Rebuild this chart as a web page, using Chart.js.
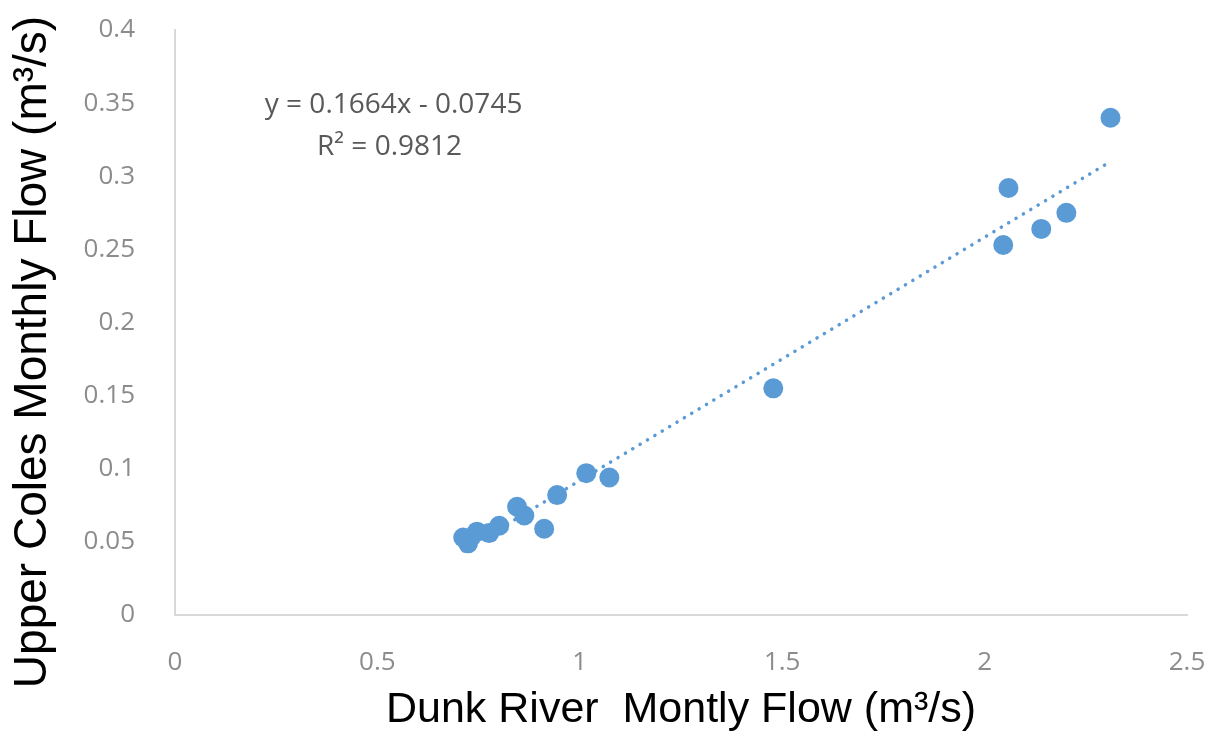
<!DOCTYPE html>
<html>
<head>
<meta charset="utf-8">
<title>Dunk River vs Upper Coles</title>
<script src="https://cdn.jsdelivr.net/npm/chart.js@4/dist/chart.umd.min.js"></script>
<style>
	body{margin:0;background:#fff;}
	canvas{display:block;}
</style>
</head>
<body>
<canvas id="grafica" width="1215" height="740"></canvas>
<script>

// Caudales mensuales (m3/s)
var flujoDunk  = [0.712, 0.724, 0.746, 0.776, 0.801, 0.845, 0.863, 0.912, 0.944, 1.016, 1.073, 1.478, 2.046, 2.059, 2.140, 2.202, 2.311];
var flujoColes = [0.053, 0.049, 0.057, 0.056, 0.061, 0.074, 0.068, 0.059, 0.082, 0.097, 0.094, 0.155, 0.253, 0.292, 0.264, 0.275, 0.340];

// Recta de ajuste
var pendiente = 0.1664;
var intercepto = -0.0745;
var r2 = 0.9812;

var ticksX = [0, 0.5, 1, 1.5, 2, 2.5];
var ticksY = [0, 0.05, 0.1, 0.15, 0.2, 0.25, 0.3, 0.35, 0.4];

var tituloX = 'Dunk River  Montly Flow (m\u00B3/s)';
var tituloY = 'Upper Coles Monthly Flow (m\u00B3/s)';

var azul = '#5b9bd5';


function puntos(){
	var lista = [];
	for (var i = 0; i < flujoDunk.length; i++) {
		lista.push({x: flujoDunk[i], y: flujoColes[i]});
	}
	return lista;
}

function tendencia(){
	var xMin = Math.min.apply(null, flujoDunk);
	var xMax = Math.max.apply(null, flujoDunk);
	return [
		{x: xMin, y: pendiente * xMin + intercepto},
		{x: xMax, y: pendiente * xMax + intercepto}
	];
}

function fijarTicks(lista){
	return function(escala){
		escala.ticks = lista.map(function(v){ return {value: v}; });
	};
}

// Titulos de los ejes y ecuacion de la recta
var textos = {
	id: 'textos',
	afterDraw: function(chart){
		var ctx = chart.ctx;
		var ex = chart.scales.x, ey = chart.scales.y;
		ctx.save();
		ctx.fillStyle = '#000';
		ctx.textAlign = 'center';
		ctx.textBaseline = 'middle';
		ctx.font = '43px "Liberation Sans", Arial, sans-serif';
		ctx.fillText(tituloX, (chart.chartArea.left + chart.chartArea.right) / 2, 710);

		ctx.font = '46px "Liberation Sans", Arial, sans-serif';
		ctx.translate(33, 352);
		ctx.rotate(-Math.PI / 2);
		ctx.fillText(tituloY, 0, 0);
		ctx.restore();

		var signo = intercepto < 0 ? ' - ' : ' + ';
		var ecuacion = 'y = ' + pendiente + 'x' + signo + Math.abs(intercepto).toFixed(4);
		ctx.save();
		ctx.fillStyle = '#595959';
		ctx.font = '28px "Open Sans", sans-serif';
		ctx.textAlign = 'center';
		ctx.textBaseline = 'middle';
		ctx.fillText(ecuacion, ex.getPixelForValue(0.54), ey.getPixelForValue(0.3484));
		ctx.fillText('R\u00B2 = ' + r2, ex.getPixelForValue(0.53), ey.getPixelForValue(0.3197));
		ctx.restore();
	}
};

var fuenteTicks = {family: '"Open Sans", sans-serif', size: 26};

var grafica = new Chart(document.getElementById('grafica'), {
	type: 'scatter',
	data: {
		datasets: [{
			label: 'Flujo mensual',
			data: puntos(),
			backgroundColor: azul,
			borderColor: azul,
			borderWidth: 0,
			pointRadius: 10,
			pointHoverRadius: 10,
			order: 1
		}, {
			type: 'line',
			label: 'Lineal',
			data: tendencia(),
			borderColor: azul,
			borderWidth: 3.5,
			borderDash: [0.1, 8.5],
			borderCapStyle: 'round',
			pointRadius: 0,
			fill: false,
			order: 2
		}]
	},
	options: {
		responsive: false,
		animation: false,
		layout: {padding: {top: 30, right: 28, left: 0, bottom: 0}},
		plugins: {
			legend: {display: false},
			tooltip: {enabled: false}
		},
		scales: {
			x: {
				type: 'linear',
				min: 0,
				max: 2.5,
				afterBuildTicks: fijarTicks(ticksX),
				afterFit: function(escala){
					escala.height = 125;
					escala.paddingLeft = 0;
					escala.paddingRight = 0;
				},
				grid: {display: false},
				border: {display: true, color: '#d9d9d9', width: 2},
				ticks: {
					color: '#8c8c8c',
					font: fuenteTicks,
					padding: 24,
					maxRotation: 0,
					callback: function(v){ return String(v); }
				}
			},
			y: {
				type: 'linear',
				min: 0,
				max: 0.4,
				afterBuildTicks: fijarTicks(ticksY),
				afterFit: function(escala){
					escala.width = 175;
					escala.paddingTop = 0;
					escala.paddingBottom = 0;
				},
				grid: {display: false},
				border: {display: true, color: '#d9d9d9', width: 2},
				ticks: {
					color: '#8c8c8c',
					font: fuenteTicks,
					padding: 32,
					callback: function(v){ return String(v); }
				}
			}
		}
	},
	plugins: [textos]
});
</script>
</body>
</html>
